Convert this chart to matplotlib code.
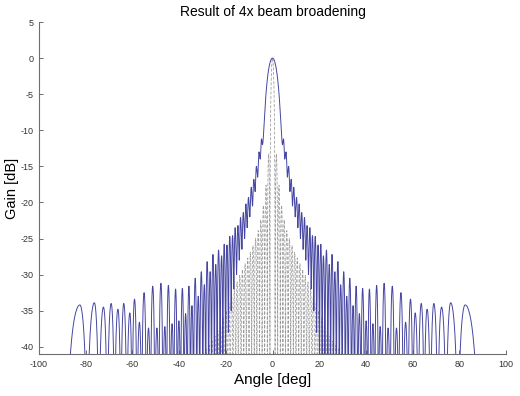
import numpy as np
import matplotlib
matplotlib.use('Agg')
import matplotlib.pyplot as plt

plt.rcParams['font.family'] = ['Liberation Sans', 'DejaVu Sans']
plt.rcParams['axes.unicode_minus'] = False

# broadened beam (blue), one side from the main lobe outwards, mirrored about 0 deg
main_peak_db = 0.0
main_null_deg = 4.3
edge_null_deg = 88.3
lobe_deg = [4.7, 5.8, 6.9, 8.0, 9.1, 10.3, 11.4, 12.5, 13.7, 14.8, 16.0, 17.1,
            18.3, 19.5, 20.7, 21.8, 23.1, 24.3, 25.5, 26.7, 28.0, 29.2, 30.5,
            31.8, 33.1, 34.5, 35.8, 37.2, 38.6, 40.1, 41.5, 43.0, 44.6, 46.1,
            47.8, 49.5, 51.3, 53.1, 55.0, 57.0, 59.1, 61.1, 63.7, 66.2, 69.1,
            72.4, 76.3, 82.5]
lobe_db = [-11.2, -13.0, -15.0, -16.8, -17.9, -19.3, -20.2, -21.4, -22.1, -23.2,
           -23.5, -24.6, -24.7, -25.9, -25.8, -27.4, -26.6, -28.6, -27.2, -29.6,
           -28.2, -31.4, -29.6, -33.0, -30.5, -34.3, -31.6, -35.4, -31.9, -36.4,
           -32.0, -36.8, -31.5, -37.2, -31.2, -37.4, -31.6, -37.4, -32.5, -36.6,
           -33.4, -35.3, -34.0, -34.8, -34.0, -34.5, -33.9, -34.2]
# null depth between neighbouring lobes near the centre; further out they fall below the axis
near_null_db = [-12.0, -14.0, -16.5, -18.5, -20.5, -22.0, -23.5, -25.0, -26.5,
                -28.0, -30.0, -32.0, -35.0, -38.0, -42.0]
deep_null_db = -80.0

# original narrow beam (gray dashed)
orig_null_deg = 1.1
orig_lobe_deg = [1.67, 2.78, 3.89, 5.01, 6.12, 7.24, 8.37, 9.49, 10.62, 11.75,
                 12.89, 14.03, 15.18, 16.34, 17.5, 18.67, 19.85, 21.03, 22.23,
                 23.43, 24.65, 25.88, 27.12, 28.38, 29.65, 30.94, 32.24]
orig_lobe_db = [-13.3, -17.6, -20.4, -22.4, -23.9, -25.0, -26.0, -26.9, -27.7,
                -28.5, -29.3, -30.1, -31.0, -32.0, -33.0, -34.0, -35.0, -36.0,
                -37.0, -37.8, -38.5, -39.2, -39.8, -40.3, -40.8, -41.2, -41.6]


def one_lobe(nl, p, nr, peak, null_l, null_r, n=60):
    x = np.linspace(nl, nr, n)
    t = np.where(x <= p, 0.5 * (x - nl) / (p - nl), 0.5 + 0.5 * (x - p) / (nr - p))
    s2 = np.sin(np.pi * t) ** 2
    f2 = np.where(t < 0.5, 10 ** ((null_l - peak) / 10), 10 ** ((null_r - peak) / 10))
    return x, peak + 10 * np.log10(s2 * (1 - f2) + f2)


def pattern(peak0, null0, angles, peaks, nulls_db, edge):
    angles = list(angles)
    null_pos = [null0] + [(a + b) / 2 for a, b in zip(angles[:-1], angles[1:])] + [edge]
    null_lv = list(nulls_db) + [deep_null_db] * (len(angles) + 1 - len(nulls_db))
    xs, ys = [], []
    for i in range(len(angles)):
        x, y = one_lobe(null_pos[i], angles[i], null_pos[i + 1], peaks[i], null_lv[i], null_lv[i + 1])
        xs.append(x)
        ys.append(y)
    xr = np.concatenate(xs)
    yr = np.concatenate(ys)
    xm, ym = one_lobe(-null0, 0.0, null0, peak0, null_lv[0], null_lv[0], n=120)
    x = np.concatenate([-xr[::-1], xm, xr])
    y = np.concatenate([yr[::-1], ym, yr])
    return x, y


bx, by = pattern(main_peak_db, main_null_deg, lobe_deg, lobe_db, near_null_db, edge_null_deg)
gx, gy = pattern(0.0, orig_null_deg, orig_lobe_deg, orig_lobe_db, [deep_null_db],
                 orig_lobe_deg[-1] + 0.65)

fig = plt.figure(figsize=(5.2, 3.96), dpi=100)
ax = fig.add_axes([39 / 520, 42 / 396, 467 / 520, 332 / 396])
ax.plot(gx, gy, color='#9a9a9a', lw=0.55, ls=(0, (4, 2)))
ax.plot(bx, by, color='#4646a2', lw=0.7)

ax.set_xlim(-100, 100)
ax.set_ylim(-41, 5)
ax.set_xticks(range(-100, 101, 20))
ax.set_yticks(range(-40, 6, 5))
ax.tick_params(direction='in', length=3, width=0.6, colors='#555555',
               labelcolor='#333333', labelsize=6.5, pad=4)
for s in ['top', 'right']:
    ax.spines[s].set_visible(False)
for s in ['left', 'bottom']:
    ax.spines[s].set_color('#6e6e6e')
    ax.spines[s].set_linewidth(0.8)

ax.set_title('Result of 4x beam broadening', fontsize=10, pad=4)
ax.set_xlabel('Angle [deg]', fontsize=11, labelpad=3)
ax.set_ylabel('Gain [dB]', fontsize=10.5, labelpad=1)

fig.savefig('out.png', dpi=100)
